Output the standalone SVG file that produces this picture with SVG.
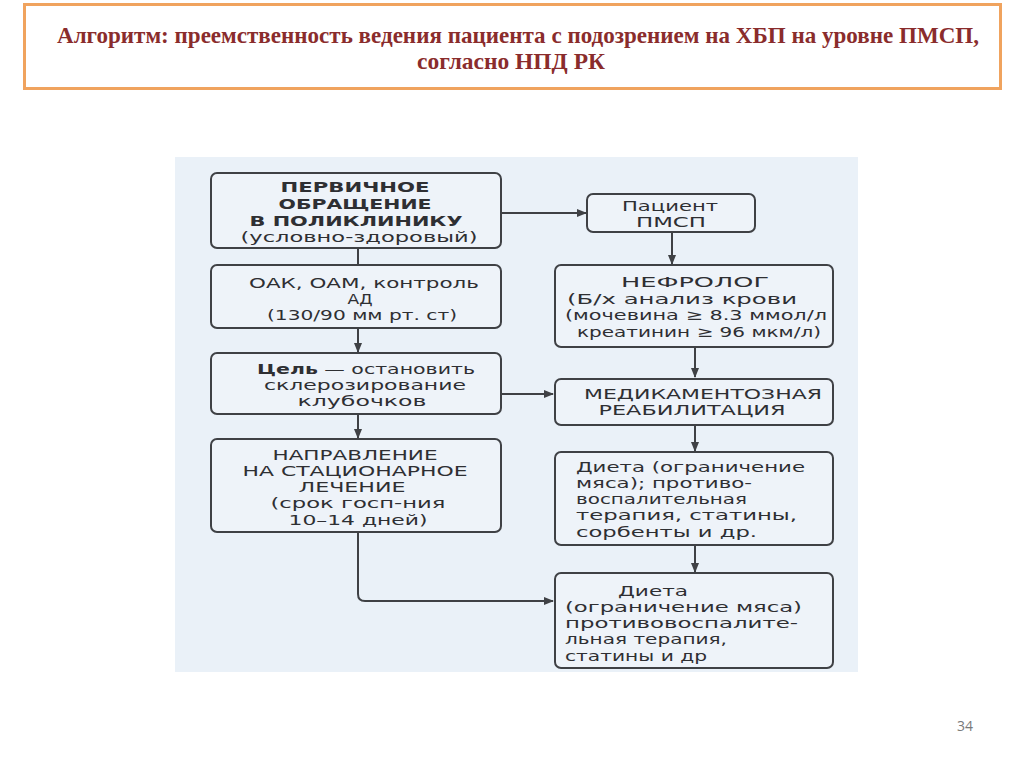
<svg xmlns="http://www.w3.org/2000/svg" width="1024" height="767" viewBox="0 0 1024 767">
<defs>
<style>
.box{fill:#eef3f9;stroke:#3f4145;stroke-width:2}
.t{font-family:"DejaVu Sans","Liberation Sans",sans-serif;font-size:14.5px;fill:#2e2f33;text-anchor:middle}
.l{text-anchor:start}
.b{font-weight:bold}
.c{fill:none;stroke:#3f4145;stroke-width:2}
.title{font-family:"Liberation Serif","Times New Roman",serif;font-weight:bold;font-size:23px;fill:#8a2c2c;text-anchor:middle}
</style>
<marker id="ah" markerWidth="10" markerHeight="8" refX="9" refY="4" orient="auto" markerUnits="userSpaceOnUse">
<path d="M0,0 L10,4 L0,8 Z" fill="#3f4145"/>
</marker>
</defs>
<rect width="1024" height="767" fill="#ffffff"/>
<g id="title">
<rect x="24.5" y="4.5" width="976" height="84" fill="#ffffff" stroke="#f0a35e" stroke-width="3"/>
<text class="title" x="518" y="43" textLength="922" lengthAdjust="spacingAndGlyphs">Алгоритм: преемственность ведения пациента с подозрением на ХБП на уровне ПМСП,</text>
<text class="title" x="511" y="69" textLength="188" lengthAdjust="spacingAndGlyphs">согласно НПД РК</text>
</g>
<rect id="panel" x="175" y="157" width="683" height="515" fill="#eaf1f8"/>
<g id="connectors">
<path class="c" d="M358,248 V265"/>
<path class="c" d="M358,328 V352" marker-end="url(#ah)"/>
<path class="c" d="M358,414 V438" marker-end="url(#ah)"/>
<path class="c" d="M501,213 H586" marker-end="url(#ah)"/>
<path class="c" d="M672,232 V264" marker-end="url(#ah)"/>
<path class="c" d="M695,347 V377" marker-end="url(#ah)"/>
<path class="c" d="M501,394 H553" marker-end="url(#ah)"/>
<path class="c" d="M695,425 V451" marker-end="url(#ah)"/>
<path class="c" d="M695,545 V572" marker-end="url(#ah)"/>
<path class="c" d="M358,532 V594 Q358,601 365,601 H553" marker-end="url(#ah)"/>
</g>
<g id="n1">
<rect class="box" x="211" y="173" width="290" height="75" rx="6"/>
<text class="t b" x="355" y="192" textLength="149" lengthAdjust="spacingAndGlyphs">ПЕРВИЧНОЕ</text>
<text class="t b" x="355" y="209" textLength="153" lengthAdjust="spacingAndGlyphs">ОБРАЩЕНИЕ</text>
<text class="t b" x="356" y="226" textLength="213" lengthAdjust="spacingAndGlyphs">В ПОЛИКЛИНИКУ</text>
<text class="t" x="359" y="242" textLength="237" lengthAdjust="spacingAndGlyphs">(условно-здоровый)</text>
</g>
<g id="n2">
<rect class="box" x="211" y="265" width="290" height="63" rx="6"/>
<text class="t" x="364" y="288" textLength="230" lengthAdjust="spacingAndGlyphs">ОАК, ОАМ, контроль</text>
<text class="t" x="360" y="304" textLength="25" lengthAdjust="spacingAndGlyphs">АД</text>
<text class="t" x="362" y="320" textLength="190" lengthAdjust="spacingAndGlyphs">(130/90 мм рт. ст)</text>
</g>
<g id="n3">
<rect class="box" x="211" y="353" width="290" height="61" rx="6"/>
<text class="t" x="366" y="374" textLength="218" lengthAdjust="spacingAndGlyphs"><tspan class="b">Цель</tspan> — остановить</text>
<text class="t" x="365" y="390" textLength="202" lengthAdjust="spacingAndGlyphs">склерозирование</text>
<text class="t" x="362" y="406" textLength="129" lengthAdjust="spacingAndGlyphs">клубочков</text>
</g>
<g id="n4">
<rect class="box" x="211" y="439" width="290" height="93" rx="6"/>
<text class="t" x="355" y="460" textLength="165" lengthAdjust="spacingAndGlyphs">НАПРАВЛЕНИЕ</text>
<text class="t" x="355" y="476" textLength="225" lengthAdjust="spacingAndGlyphs">НА СТАЦИОНАРНОЕ</text>
<text class="t" x="352" y="492" textLength="107" lengthAdjust="spacingAndGlyphs">ЛЕЧЕНИЕ</text>
<text class="t" x="358" y="508" textLength="175" lengthAdjust="spacingAndGlyphs">(срок госп-ния</text>
<text class="t" x="358" y="525" textLength="139" lengthAdjust="spacingAndGlyphs">10–14 дней)</text>
</g>
<g id="r1">
<rect class="box" x="587" y="194" width="168" height="38" rx="6"/>
<text class="t" x="670" y="211" textLength="96" lengthAdjust="spacingAndGlyphs">Пациент</text>
<text class="t" x="671" y="227" textLength="70" lengthAdjust="spacingAndGlyphs">ПМСП</text>
</g>
<g id="r2">
<rect class="box" x="555" y="265" width="278" height="82" rx="6"/>
<text class="t" x="695" y="287" textLength="148" lengthAdjust="spacingAndGlyphs">НЕФРОЛОГ</text>
<text class="t" x="682" y="304" textLength="230" lengthAdjust="spacingAndGlyphs">(Б/х анализ крови</text>
<text class="t" x="696" y="320" textLength="262" lengthAdjust="spacingAndGlyphs">(мочевина ≥ 8.3 ммол/л</text>
<text class="t" x="699" y="337" textLength="244" lengthAdjust="spacingAndGlyphs">креатинин ≥ 96 мкм/л)</text>
</g>
<g id="r3">
<rect class="box" x="555" y="379" width="278" height="46" rx="6"/>
<text class="t" x="703" y="399" textLength="238" lengthAdjust="spacingAndGlyphs">МЕДИКАМЕНТОЗНАЯ</text>
<text class="t" x="692" y="415" textLength="187" lengthAdjust="spacingAndGlyphs">РЕАБИЛИТАЦИЯ</text>
</g>
<g id="r4">
<rect class="box" x="555" y="452" width="278" height="93" rx="6"/>
<text class="t l" x="576" y="472" textLength="229" lengthAdjust="spacingAndGlyphs">Диета (ограничение</text>
<text class="t l" x="576" y="488" textLength="176" lengthAdjust="spacingAndGlyphs">мяса); противо-</text>
<text class="t l" x="576" y="504" textLength="171" lengthAdjust="spacingAndGlyphs">воспалительная</text>
<text class="t l" x="576" y="520" textLength="221" lengthAdjust="spacingAndGlyphs">терапия, статины,</text>
<text class="t l" x="576" y="537" textLength="181" lengthAdjust="spacingAndGlyphs">сорбенты и др.</text>
</g>
<g id="r5">
<rect class="box" x="555" y="573" width="278" height="95" rx="6"/>
<text class="t" x="653" y="596" textLength="70" lengthAdjust="spacingAndGlyphs">Диета</text>
<text class="t l" x="565" y="612" textLength="237" lengthAdjust="spacingAndGlyphs">(ограничение мяса)</text>
<text class="t l" x="565" y="628" textLength="233" lengthAdjust="spacingAndGlyphs">противовоспалите-</text>
<text class="t l" x="565" y="644" textLength="162" lengthAdjust="spacingAndGlyphs">льная терапия,</text>
<text class="t l" x="565" y="661" textLength="142" lengthAdjust="spacingAndGlyphs">статины и др</text>
</g>
<text id="page" x="965" y="731" font-family="'Open Sans','Liberation Sans',sans-serif" font-size="14" fill="#7a7a7a" text-anchor="middle">34</text>
</svg>
